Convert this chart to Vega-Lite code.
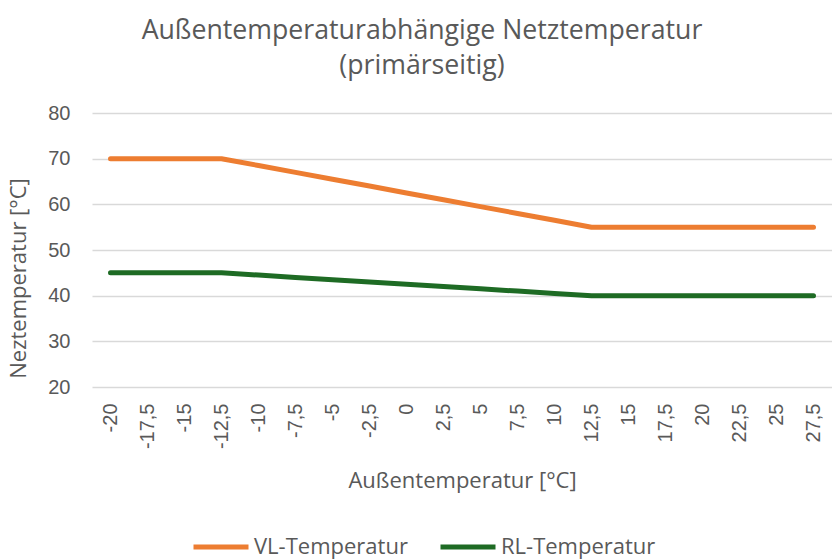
{
  "$schema": "https://vega.github.io/schema/vega-lite/v6.json",
  "width": 740,
  "height": 274,
  "autosize": "none",
  "padding": {"left": 92, "top": 113, "right": 0, "bottom": 172},
  "background": "white",
  "title": {
    "text": ["Außentemperaturabhängige Netztemperatur", "(primärseitig)"],
    "font": "Open Sans",
    "fontSize": 26.7,
    "fontWeight": "normal",
    "color": "#595959",
    "anchor": "middle",
    "frame": "group",
    "dx": -40,
    "lineHeight": 35,
    "offset": 23
  },
  "data": {
    "values": [
      {"x": "-20", "series": "VL-Temperatur", "value": 70},
      {"x": "-17,5", "series": "VL-Temperatur", "value": 70},
      {"x": "-15", "series": "VL-Temperatur", "value": 70},
      {"x": "-12,5", "series": "VL-Temperatur", "value": 70},
      {"x": "-10", "series": "VL-Temperatur", "value": 68.5},
      {"x": "-7,5", "series": "VL-Temperatur", "value": 67},
      {"x": "-5", "series": "VL-Temperatur", "value": 65.5},
      {"x": "-2,5", "series": "VL-Temperatur", "value": 64},
      {"x": "0", "series": "VL-Temperatur", "value": 62.5},
      {"x": "2,5", "series": "VL-Temperatur", "value": 61},
      {"x": "5", "series": "VL-Temperatur", "value": 59.5},
      {"x": "7,5", "series": "VL-Temperatur", "value": 58},
      {"x": "10", "series": "VL-Temperatur", "value": 56.5},
      {"x": "12,5", "series": "VL-Temperatur", "value": 55},
      {"x": "15", "series": "VL-Temperatur", "value": 55},
      {"x": "17,5", "series": "VL-Temperatur", "value": 55},
      {"x": "20", "series": "VL-Temperatur", "value": 55},
      {"x": "22,5", "series": "VL-Temperatur", "value": 55},
      {"x": "25", "series": "VL-Temperatur", "value": 55},
      {"x": "27,5", "series": "VL-Temperatur", "value": 55},
      {"x": "-20", "series": "RL-Temperatur", "value": 45},
      {"x": "-17,5", "series": "RL-Temperatur", "value": 45},
      {"x": "-15", "series": "RL-Temperatur", "value": 45},
      {"x": "-12,5", "series": "RL-Temperatur", "value": 45},
      {"x": "-10", "series": "RL-Temperatur", "value": 44.5},
      {"x": "-7,5", "series": "RL-Temperatur", "value": 44},
      {"x": "-5", "series": "RL-Temperatur", "value": 43.5},
      {"x": "-2,5", "series": "RL-Temperatur", "value": 43},
      {"x": "0", "series": "RL-Temperatur", "value": 42.5},
      {"x": "2,5", "series": "RL-Temperatur", "value": 42},
      {"x": "5", "series": "RL-Temperatur", "value": 41.5},
      {"x": "7,5", "series": "RL-Temperatur", "value": 41},
      {"x": "10", "series": "RL-Temperatur", "value": 40.5},
      {"x": "12,5", "series": "RL-Temperatur", "value": 40},
      {"x": "15", "series": "RL-Temperatur", "value": 40},
      {"x": "17,5", "series": "RL-Temperatur", "value": 40},
      {"x": "20", "series": "RL-Temperatur", "value": 40},
      {"x": "22,5", "series": "RL-Temperatur", "value": 40},
      {"x": "25", "series": "RL-Temperatur", "value": 40},
      {"x": "27,5", "series": "RL-Temperatur", "value": 40}
    ]
  },
  "mark": {"type": "line", "strokeWidth": 5, "strokeCap": "round", "strokeJoin": "round"},
  "encoding": {
    "x": {
      "field": "x",
      "type": "ordinal",
      "sort": null,
      "scale": {"type": "point", "padding": 0.5},
      "axis": {
        "title": "Außentemperatur [°C]",
        "titleFont": "Open Sans",
        "titleFontSize": 22,
        "titleFontWeight": "normal",
        "titleColor": "#595959",
        "titleY": 93,
        "titleBaseline": "middle",
        "labelAngle": -90,
        "labelAlign": "right",
        "labelBaseline": "middle",
        "labelFont": "Liberation Sans",
        "labelFontSize": 20,
        "labelColor": "#595959",
        "labelPadding": 16,
        "ticks": false,
        "domain": false,
        "grid": false
      }
    },
    "y": {
      "field": "value",
      "type": "quantitative",
      "scale": {"domain": [20, 80], "nice": false, "zero": false},
      "axis": {
        "title": "Neztemperatur [°C]",
        "titleFont": "Open Sans",
        "titleFontSize": 22,
        "titleFontWeight": "normal",
        "titleColor": "#595959",
        "titleX": -74,
        "titleY": 165,
        "titleAngle": -90,
        "titleAlign": "center",
        "titleBaseline": "middle",
        "values": [20, 30, 40, 50, 60, 70, 80],
        "labelFont": "Liberation Sans",
        "labelFontSize": 20,
        "labelColor": "#595959",
        "labelPadding": 22,
        "ticks": false,
        "domain": false,
        "grid": true,
        "gridColor": "#d9d9d9",
        "gridWidth": 1.5
      }
    },
    "color": {
      "field": "series",
      "type": "nominal",
      "sort": ["VL-Temperatur", "RL-Temperatur"],
      "scale": {"domain": ["VL-Temperatur", "RL-Temperatur"], "range": ["#ED7D31", "#1E6B24"]},
      "legend": {
        "title": null,
        "orient": "none",
        "direction": "horizontal",
        "legendX": 99,
        "legendY": 404,
        "symbolType": "stroke",
        "symbolSize": 3025,
        "symbolStrokeWidth": 5,
        "labelFont": "Open Sans",
        "labelFontSize": 22,
        "labelColor": "#595959",
        "labelOffset": 3,
        "columnPadding": 22,
        "labelLimit": 300
      }
    }
  },
  "config": {"view": {"stroke": null}}
}
